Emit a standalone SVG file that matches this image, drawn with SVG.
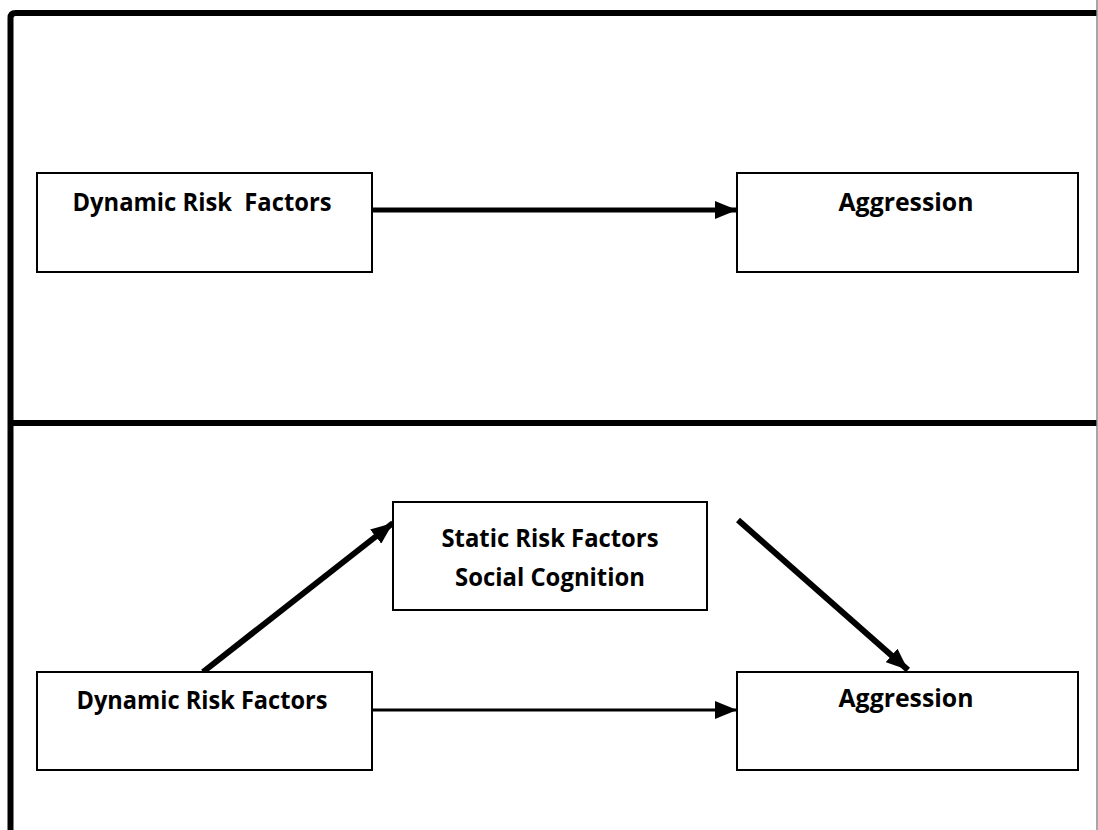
<svg xmlns="http://www.w3.org/2000/svg" width="1098" height="830" viewBox="0 0 1098 830">
<style>
.box{fill:#fff;stroke:#000;stroke-width:2}
.lbl{font-family:"Open Sans","Liberation Sans",sans-serif;font-weight:700;font-size:25px;fill:#000;text-anchor:middle}
.frame{fill:none;stroke:#000;stroke-width:6}
.conn{fill:none;stroke:#000}
</style>
<defs>
<marker id="ah" markerUnits="userSpaceOnUse" viewBox="0 0 22 18" refX="22" refY="9" markerWidth="22" markerHeight="18" orient="auto">
<path d="M0,0 L22,9 L0,18 Z" fill="#000"/>
</marker>
</defs>
<rect width="1098" height="830" fill="#fff"/>
<g id="frame">
<path class="frame" d="M10.5,830 V18 Q10.5,13 15.5,13 H1097"/>
<line class="frame" x1="10.5" y1="423" x2="1097" y2="423"/>
<line x1="1097" y1="0" x2="1097" y2="830" stroke="#888" stroke-width="1.5"/>
</g>
<g id="connectors">
<line class="conn" x1="372" y1="210" x2="737" y2="210" stroke-width="5" marker-end="url(#ah)"/>
<line class="conn" x1="372" y1="710" x2="737" y2="710" stroke-width="3" marker-end="url(#ah)"/>
<line class="conn" x1="203" y1="672" x2="393" y2="523" stroke-width="6" marker-end="url(#ah)"/>
<line class="conn" x1="738" y1="520" x2="908" y2="670" stroke-width="6" marker-end="url(#ah)"/>
</g>
<g id="n1">
<rect class="box" x="37" y="173" width="335" height="99"/>
<text class="lbl" x="202" y="211" xml:space="preserve" textLength="259" lengthAdjust="spacingAndGlyphs">Dynamic Risk  Factors</text>
</g>
<g id="n2">
<rect class="box" x="737" y="173" width="341" height="99"/>
<text class="lbl" x="906" y="211" textLength="135" lengthAdjust="spacingAndGlyphs">Aggression</text>
</g>
<g id="n3">
<rect class="box" x="393" y="502" width="314" height="108"/>
<text class="lbl" x="550" y="547" textLength="217" lengthAdjust="spacingAndGlyphs">Static Risk Factors</text>
<text class="lbl" x="550" y="586" textLength="190" lengthAdjust="spacingAndGlyphs">Social Cognition</text>
</g>
<g id="n4">
<rect class="box" x="37" y="672" width="335" height="98"/>
<text class="lbl" x="202" y="709" textLength="251" lengthAdjust="spacingAndGlyphs">Dynamic Risk Factors</text>
</g>
<g id="n5">
<rect class="box" x="737" y="672" width="341" height="98"/>
<text class="lbl" x="906" y="707" textLength="135" lengthAdjust="spacingAndGlyphs">Aggression</text>
</g>
</svg>
